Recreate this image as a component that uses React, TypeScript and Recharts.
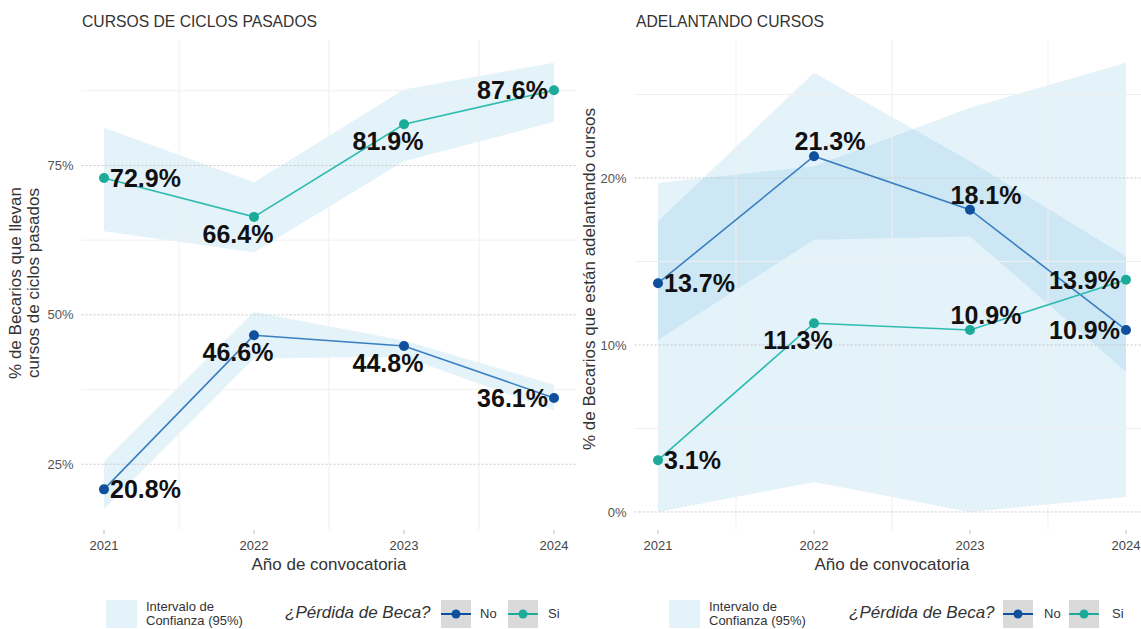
import React from 'react';
import { ComposedChart, Area, Line, XAxis, YAxis, ReferenceLine, LabelList } from 'recharts';

const years = [2021, 2022, 2023, 2024];

// Cursos de ciclos pasados
const pasadosNo = [20.8, 46.6, 44.8, 36.1];
const pasadosNoLow = [17.5, 42.7, 43.0, 34.0];
const pasadosNoHigh = [25.5, 50.5, 45.7, 38.3];
const pasadosSi = [72.9, 66.4, 81.9, 87.6];
const pasadosSiLow = [64.0, 60.5, 75.7, 82.3];
const pasadosSiHigh = [81.3, 72.2, 87.7, 92.2];
const pasadosTicks = [25, 50, 75];
const pasadosMinor = [37.5, 62.5, 87.5];

// Adelantando cursos
const adelantaNo = [13.7, 21.3, 18.1, 10.9];
const adelantaNoLow = [10.3, 16.3, 16.5, 8.4];
const adelantaNoHigh = [17.4, 26.3, 21.0, 15.3];
const adelantaSi = [3.1, 11.3, 10.9, 13.9];
const adelantaSiLow = [0, 1.8, 0, 0.9];
const adelantaSiHigh = [19.7, 20.7, 24.2, 26.9];
const adelantaTicks = [0, 10, 20];
const adelantaMinor = [5, 15, 25];

const minorYears = [2021.5, 2022.5, 2023.5];

// where each value label sits next to its point
const pasadosNoPos = ['right', 'below', 'below', 'left'];
const pasadosSiPos = ['right', 'below', 'below', 'left'];
const adelantaNoPos = ['right', 'above', 'above', 'left'];
const adelantaSiPos = ['right', 'below', 'above', 'left'];

const NO_LINE = '#3a7fc1';
const NO_DOT = '#0f4f9c';
const SI_LINE = '#2dbcae';
const SI_DOT = '#1bab98';
const BAND = '#5ab0e0';
const FONT = '"Liberation Sans", Arial, sans-serif';
const LABEL_FONT = '"Liberation Sans Narrow", "Arial Narrow", "Liberation Sans", sans-serif';

const buildRows = (no: number[], noLo: number[], noHi: number[], si: number[], siLo: number[], siHi: number[]) =>
  years.map((year, i) => ({
    year,
    no: no[i],
    si: si[i],
    noBand: [noLo[i], noHi[i]],
    siBand: [siLo[i], siHi[i]],
  }));

const pasadosData = buildRows(pasadosNo, pasadosNoLow, pasadosNoHigh, pasadosSi, pasadosSiLow, pasadosSiHigh);
const adelantaData = buildRows(adelantaNo, adelantaNoLow, adelantaNoHigh, adelantaSi, adelantaSiLow, adelantaSiHigh);

const makeLabel = (positions: string[]) => (props: any) => {
  const { x, y, value, index } = props;
  const pos = positions[index];
  let tx = x;
  let ty = y;
  let anchor: 'start' | 'end' | 'middle' = 'middle';
  if (pos === 'right') { tx = x + 6; anchor = 'start'; }
  else if (pos === 'left') { tx = x - 6; anchor = 'end'; }
  else if (pos === 'below') { tx = x - 16; ty = y + 17; }
  else { tx = x + 16; ty = y - 15; }
  return (
    <text x={tx} y={ty} dy="0.36em" textAnchor={anchor} fontSize={25} fontWeight="bold" fill="#111" fontFamily={LABEL_FONT}>
      {`${Number(value).toFixed(1)}%`}
    </text>
  );
};

interface PanelProps {
  data: any[];
  domain: [number, number];
  ticks: number[];
  minor: number[];
  noPos: string[];
  siPos: string[];
  marginLeft: number;
  marginRight: number;
  axisWidth: number;
}

const Panel = ({ data, domain, ticks, minor, noPos, siPos, marginLeft, marginRight, axisWidth }: PanelProps) => (
  <ComposedChart width={600} height={629} data={data} margin={{ top: 40, right: marginRight, bottom: 69, left: marginLeft }}>
    {minor.map((v) => (
      <ReferenceLine key={`h${v}`} y={v} stroke="#f0f0f0" />
    ))}
    {minorYears.map((v) => (
      <ReferenceLine key={`v${v}`} x={v} stroke="#efefef" />
    ))}
    {ticks.map((v) => (
      <ReferenceLine key={`m${v}`} y={v} stroke="#c9c9c9" strokeDasharray="2 2" />
    ))}
    <XAxis
      dataKey="year"
      type="number"
      domain={[2020.85, 2024.15]}
      ticks={years}
      allowDataOverflow
      height={30}
      axisLine={false}
      tickLine={{ stroke: '#bbbbbb' }}
      tickSize={4}
      tickMargin={7}
      tick={{ fontSize: 13, fill: '#444', fontFamily: FONT }}
    />
    <YAxis
      type="number"
      domain={domain}
      ticks={ticks}
      allowDataOverflow
      width={axisWidth}
      axisLine={false}
      tickLine={false}
      tickSize={0}
      tickMargin={8}
      tickFormatter={(v) => `${v}%`}
      tick={{ fontSize: 13, fill: '#555', fontFamily: FONT }}
    />
    <Area type="linear" dataKey="siBand" stroke="none" fill={BAND} fillOpacity={0.16} isAnimationActive={false} />
    <Area type="linear" dataKey="noBand" stroke="none" fill={BAND} fillOpacity={0.16} isAnimationActive={false} />
    <Line
      type="linear"
      dataKey="no"
      stroke={NO_LINE}
      strokeWidth={1.6}
      dot={{ r: 5, fill: NO_DOT, stroke: NO_DOT, strokeWidth: 0 }}
      isAnimationActive={false}
    >
      <LabelList dataKey="no" content={makeLabel(noPos)} />
    </Line>
    <Line
      type="linear"
      dataKey="si"
      stroke={SI_LINE}
      strokeWidth={1.6}
      dot={{ r: 5, fill: SI_DOT, stroke: SI_DOT, strokeWidth: 0 }}
      isAnimationActive={false}
    >
      <LabelList dataKey="si" content={makeLabel(siPos)} />
    </Line>
  </ComposedChart>
);

const KeyBox = ({ line, dot }: { line: string; dot: string }) => (
  <svg width={30} height={28} style={{ display: 'block' }}>
    <rect width={30} height={28} fill="#dadada" />
    <line x1={0} y1={14} x2={30} y2={14} stroke={line} strokeWidth={2} />
    <circle cx={15} cy={14} r={4.5} fill={dot} />
  </svg>
);

const Legend = ({ left, titleLeft, box1, noLeft, box2, siLeft }: any) => (
  <>
    <div style={{ position: 'absolute', left, top: 600, width: 31, height: 28, background: '#e4f2fa' }} />
    <div style={{ position: 'absolute', left: left + 40, top: 600, fontSize: 13, lineHeight: '14px', color: '#333' }}>
      Intervalo de<br />Confianza (95%)
    </div>
    <div style={{ position: 'absolute', left: titleLeft, top: 603, fontSize: 17, fontStyle: 'italic', color: '#333', whiteSpace: 'nowrap' }}>
      ¿Pérdida de Beca?
    </div>
    <div style={{ position: 'absolute', left: box1, top: 600 }}>
      <KeyBox line={NO_DOT} dot={NO_DOT} />
    </div>
    <div style={{ position: 'absolute', left: noLeft, top: 606, fontSize: 13, color: '#333' }}>No</div>
    <div style={{ position: 'absolute', left: box2, top: 600 }}>
      <KeyBox line={SI_DOT} dot={SI_DOT} />
    </div>
    <div style={{ position: 'absolute', left: siLeft, top: 606, fontSize: 13, color: '#333' }}>Si</div>
  </>
);

export default function App() {
  return (
    <div style={{ position: 'absolute', left: 0, top: 0, width: 1141, height: 629, overflow: 'hidden', background: '#fff', fontFamily: FONT }}>
      <div style={{ position: 'absolute', left: 0, top: 0 }}>
        <Panel
          data={pasadosData}
          domain={[14, 96]}
          ticks={pasadosTicks}
          minor={pasadosMinor}
          noPos={pasadosNoPos}
          siPos={pasadosSiPos}
          marginLeft={6.5}
          marginRight={23.5}
          axisWidth={75}
        />
      </div>
      <div style={{ position: 'absolute', left: 580, top: 0 }}>
        <Panel
          data={adelantaData}
          domain={[-1.08, 28.26]}
          ticks={adelantaTicks}
          minor={adelantaMinor}
          noPos={adelantaNoPos}
          siPos={adelantaSiPos}
          marginLeft={4.6}
          marginRight={30.6}
          axisWidth={50}
        />
      </div>

      <div style={{ position: 'absolute', left: 82, top: 13, fontSize: 15.7, color: '#333', whiteSpace: 'nowrap' }}>CURSOS DE CICLOS PASADOS</div>
      <div style={{ position: 'absolute', left: 636, top: 13, fontSize: 15.7, color: '#333', whiteSpace: 'nowrap' }}>ADELANTANDO CURSOS</div>

      <div style={{ position: 'absolute', left: 329, top: 555, transform: 'translateX(-50%)', fontSize: 17, color: '#333', whiteSpace: 'nowrap' }}>
        Año de convocatoria
      </div>
      <div style={{ position: 'absolute', left: 892, top: 555, transform: 'translateX(-50%)', fontSize: 17, color: '#333', whiteSpace: 'nowrap' }}>
        Año de convocatoria
      </div>

      <div
        style={{
          position: 'absolute',
          left: 25,
          top: 283,
          transform: 'translate(-50%, -50%) rotate(-90deg)',
          fontSize: 17,
          lineHeight: '18px',
          color: '#333',
          textAlign: 'center',
          whiteSpace: 'nowrap',
        }}
      >
        % de Becarios que llevan<br />cursos de ciclos pasados
      </div>
      <div
        style={{
          position: 'absolute',
          left: 590,
          top: 279,
          transform: 'translate(-50%, -50%) rotate(-90deg)',
          fontSize: 17,
          color: '#333',
          whiteSpace: 'nowrap',
        }}
      >
        % de Becarios que están adelantando cursos
      </div>

      <Legend left={106} titleLeft={285} box1={441} noLeft={480} box2={508} siLeft={548} />
      <Legend left={669} titleLeft={849} box1={1003} noLeft={1044} box2={1069} siLeft={1112} />
    </div>
  );
}
